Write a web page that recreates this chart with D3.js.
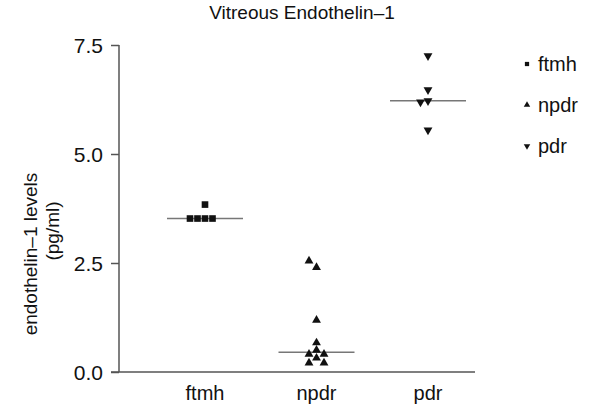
<!DOCTYPE html>
<html>
<head>
<meta charset="utf-8">
<script src="https://d3js.org/d3.v7.min.js"></script>
<style>
  body { margin: 0; background: #fff; }
  text { font-family: "Liberation Sans", Arial, sans-serif; fill: #111; }
</style>
</head>
<body>
<script>
// groups and their measured values (pg/ml)
const groups = ["ftmh", "npdr", "pdr"];
const ftmhValues = [3.84, 3.52, 3.52, 3.52, 3.52];
const npdrValues = [2.40, 2.55, 1.19, 0.67, 0.50, 0.41, 0.41, 0.32, 0.21, 0.21];
const pdrValues = [7.25, 6.47, 6.22, 6.19, 5.55];
const yTicks = [0, 2.5, 5, 7.5];

const seriesValues = [ftmhValues, npdrValues, pdrValues];

let width = 616, height = 412;
let margin = {left: 119, right: 141, top: 45, bottom: 40};

let svg = d3.select("body").append("svg")
    .attr("width", width)
    .attr("height", height);

let x = d3.scalePoint()
    .domain(groups)
    .range([205, 428]);

let y = d3.scaleLinear()
    .domain([0, 7.5])
    .range([height - margin.bottom, margin.top]);

// markers
const symbols = {
    ftmh: d3.symbol().type(d3.symbolSquare).size(44),
    npdr: d3.symbol().type(d3.symbolTriangle).size(34),
    pdr: d3.symbol().type(d3.symbolTriangle).size(34)
};
const legendSymbols = {
    ftmh: d3.symbol().type(d3.symbolSquare).size(18),
    npdr: d3.symbol().type(d3.symbolTriangle).size(18),
    pdr: d3.symbol().type(d3.symbolTriangle).size(18)
};

// simple dodge: spread points that would overlap into side slots
function dodge(values, step, minGap) {
    let placed = [];
    let order = [0, -1, 1, -2, 2, -3, 3];
    return values.map(v => {
        let py = y(v);
        let slot = order.find(s => !placed.some(p => p.slot === s && Math.abs(p.py - py) < minGap));
        placed.push({slot: slot, py: py});
        return {value: v, dx: slot * step};
    });
}

// median lines
groups.forEach((g, i) => {
    let med = d3.median(seriesValues[i]);
    svg.append("line")
        .attr("x1", x(g) - 38).attr("x2", x(g) + 38)
        .attr("y1", y(med)).attr("y2", y(med))
        .attr("stroke", "#777").attr("stroke-width", 1.5);
});

groups.forEach((g, i) => {
    let pts = dodge(seriesValues[i], 7.5, 7);
    svg.append("g").selectAll("path")
        .data(pts)
        .join("path")
        .attr("d", symbols[g])
        .attr("transform", d => `translate(${x(g) + d.dx},${y(d.value)})` + (g === "pdr" ? " rotate(180)" : ""))
        .attr("fill", "#111");
});

// axes
let yAxis = svg.append("g")
    .attr("transform", `translate(${margin.left},0)`)
    .call(d3.axisLeft(y).tickValues(yTicks).tickFormat(d3.format(".1f")).tickSize(8).tickPadding(8));
yAxis.select(".domain").attr("d", `M0,${y(7.5)}H-0V${y(0)}`);

svg.append("line")
    .attr("x1", margin.left - 8).attr("x2", width - margin.right)
    .attr("y1", y(0)).attr("y2", y(0))
    .attr("stroke", "#555").attr("stroke-width", 1.5);

yAxis.selectAll("line, path").attr("stroke", "#555").attr("stroke-width", 1.5);
yAxis.selectAll("text").style("font-size", "21px").attr("fill", "#111").attr("dy", "0.35em");

svg.append("g").selectAll("text")
    .data(groups)
    .join("text")
    .attr("x", d => x(d))
    .attr("y", height - 12)
    .attr("text-anchor", "middle")
    .style("font-size", "20px")
    .text(d => d);

// title and y label
svg.append("text")
    .attr("x", 302).attr("y", 19)
    .attr("text-anchor", "middle")
    .style("font-size", "19px")
    .text("Vitreous Endothelin\u20131");

svg.append("text")
    .attr("transform", "translate(37,254) rotate(-90)")
    .attr("text-anchor", "middle")
    .style("font-size", "19px")
    .text("endothelin\u20131 levels");
svg.append("text")
    .attr("transform", "translate(59,231) rotate(-90)")
    .attr("text-anchor", "middle")
    .style("font-size", "19px")
    .text("(pg/ml)");

// legend
let legend = svg.append("g").attr("transform", "translate(527,64)");
groups.forEach((g, i) => {
    let row = legend.append("g").attr("transform", `translate(0,${i * 41})`);
    row.append("path")
        .attr("d", legendSymbols[g])
        .attr("transform", g === "pdr" ? "rotate(180)" : null)
        .attr("fill", "#111");
    row.append("text")
        .attr("x", 11).attr("y", 7)
        .style("font-size", "20px")
        .text(g);
});
</script>
</body>
</html>
